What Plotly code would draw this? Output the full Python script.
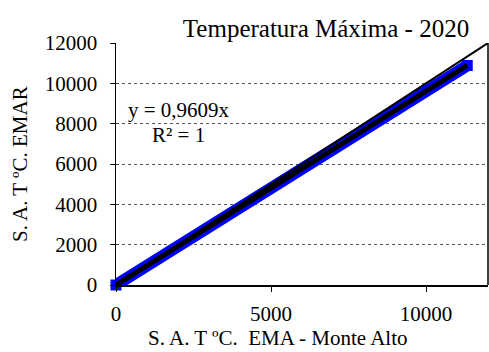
import plotly.graph_objects as go

# Data: cumulative sums of max temperature
x_ema = [0, 950, 1830, 2790, 3700, 4620, 5500, 6430, 7390, 8330, 9320, 10270, 11330]
y_emar = [0, 915, 1760, 2680, 3555, 4440, 5285, 6180, 7100, 8005, 8955, 9870, 10885]
slope = 0.9609
one_to_one = [0, 12000]
x_ticks = [0, 5000, 10000]
x_tick_labels = ["0", "5000", "10000"]
y_ticks = [0, 2000, 4000, 6000, 8000, 10000, 12000]
y_tick_labels = ["0", "2000", "4000", "6000", "8000", "10000", "12000"]

FONT = "Liberation Serif"
W, H = 489, 352
L, R, T, B = 116, 1, 43, 67

fig = go.Figure()
# blue data band
fig.add_trace(go.Scatter(x=x_ema, y=y_emar, mode="lines",
                         line=dict(color="#0000ff", width=12),
                         hoverinfo="skip", cliponaxis=False))
fig.add_trace(go.Scatter(x=[x_ema[0], x_ema[-1]], y=[y_emar[0], y_emar[-1]], mode="markers",
                         marker=dict(symbol="square", size=11, color="#0000ff",
                                     line=dict(width=0)),
                         hoverinfo="skip", cliponaxis=False))
# 1:1 line
fig.add_trace(go.Scatter(x=one_to_one, y=one_to_one, mode="lines",
                         line=dict(color="black", width=2), hoverinfo="skip"))
# trend line
fig.add_trace(go.Scatter(x=[x_ema[0], x_ema[-1]], y=[slope * x_ema[0], slope * x_ema[-1]],
                         mode="lines", line=dict(color="black", width=5), hoverinfo="skip"))

fig.update_layout(
    width=W, height=H, showlegend=False,
    margin=dict(l=L, r=R, t=T, b=B, autoexpand=False),
    plot_bgcolor="white", paper_bgcolor="white",
    font=dict(family=FONT, size=21, color="black"),
    title=dict(text="Temperatura Máxima - 2020", xref="container", yref="container",
               x=326 / W, y=1 - 28 / H, xanchor="center", yanchor="middle",
               font=dict(family=FONT, size=25, color="black")),
)
fig.update_xaxes(range=[0, 12000], tickvals=x_ticks, ticktext=x_tick_labels,
                 ticks="outside", ticklen=5, automargin=False,
                 tickcolor="black", showgrid=False, zeroline=False,
                 showline=True, linecolor="black", linewidth=1.5,
                 tickfont=dict(family=FONT, size=21), ticklabelstandoff=4)
fig.update_yaxes(range=[0, 12000], tickvals=y_ticks, ticktext=y_tick_labels,
                 ticks="outside", ticklen=5, automargin=False,
                 tickcolor="black", showgrid=True, gridcolor="#555555", griddash="dot",
                 gridwidth=1, zeroline=False,
                 showline=True, linecolor="black", linewidth=1.5,
                 tickfont=dict(family=FONT, size=21), ticklabelstandoff=8)

pw = W - L - R
ph = H - T - B
fig.add_shape(type="line", xref="paper", yref="paper", x0=1, x1=1, y0=0, y1=1,
              line=dict(color="black", width=1.5))

fig.add_annotation(text="S. A. T ºC.  EMA - Monte Alto", xref="paper", yref="paper",
                   x=(278 - L) / pw, y=-(338 - (T + ph)) / ph, showarrow=False,
                   xanchor="center", yanchor="middle", font=dict(family=FONT, size=21))
fig.add_annotation(text="S. A. T ºC. EMAR", xref="paper", yref="paper",
                   x=(20 - L) / pw, y=0.5, showarrow=False, textangle=-90,
                   xanchor="center", yanchor="middle", font=dict(family=FONT, size=21))
fig.add_annotation(text="y = 0,9609x", xref="paper", yref="paper",
                   x=(179 - L) / pw, y=1 - (110 - T) / ph, showarrow=False,
                   xanchor="center", yanchor="middle", font=dict(family=FONT, size=21))
fig.add_annotation(text="R² = 1", xref="paper", yref="paper",
                   x=(178 - L) / pw, y=1 - (135 - T) / ph, showarrow=False,
                   xanchor="center", yanchor="middle", font=dict(family=FONT, size=21))

fig.write_html("out.html", config={"displayModeBar": False, "staticPlot": True},
               post_script="document.body.style.margin='0';document.body.style.overflow='hidden';")
